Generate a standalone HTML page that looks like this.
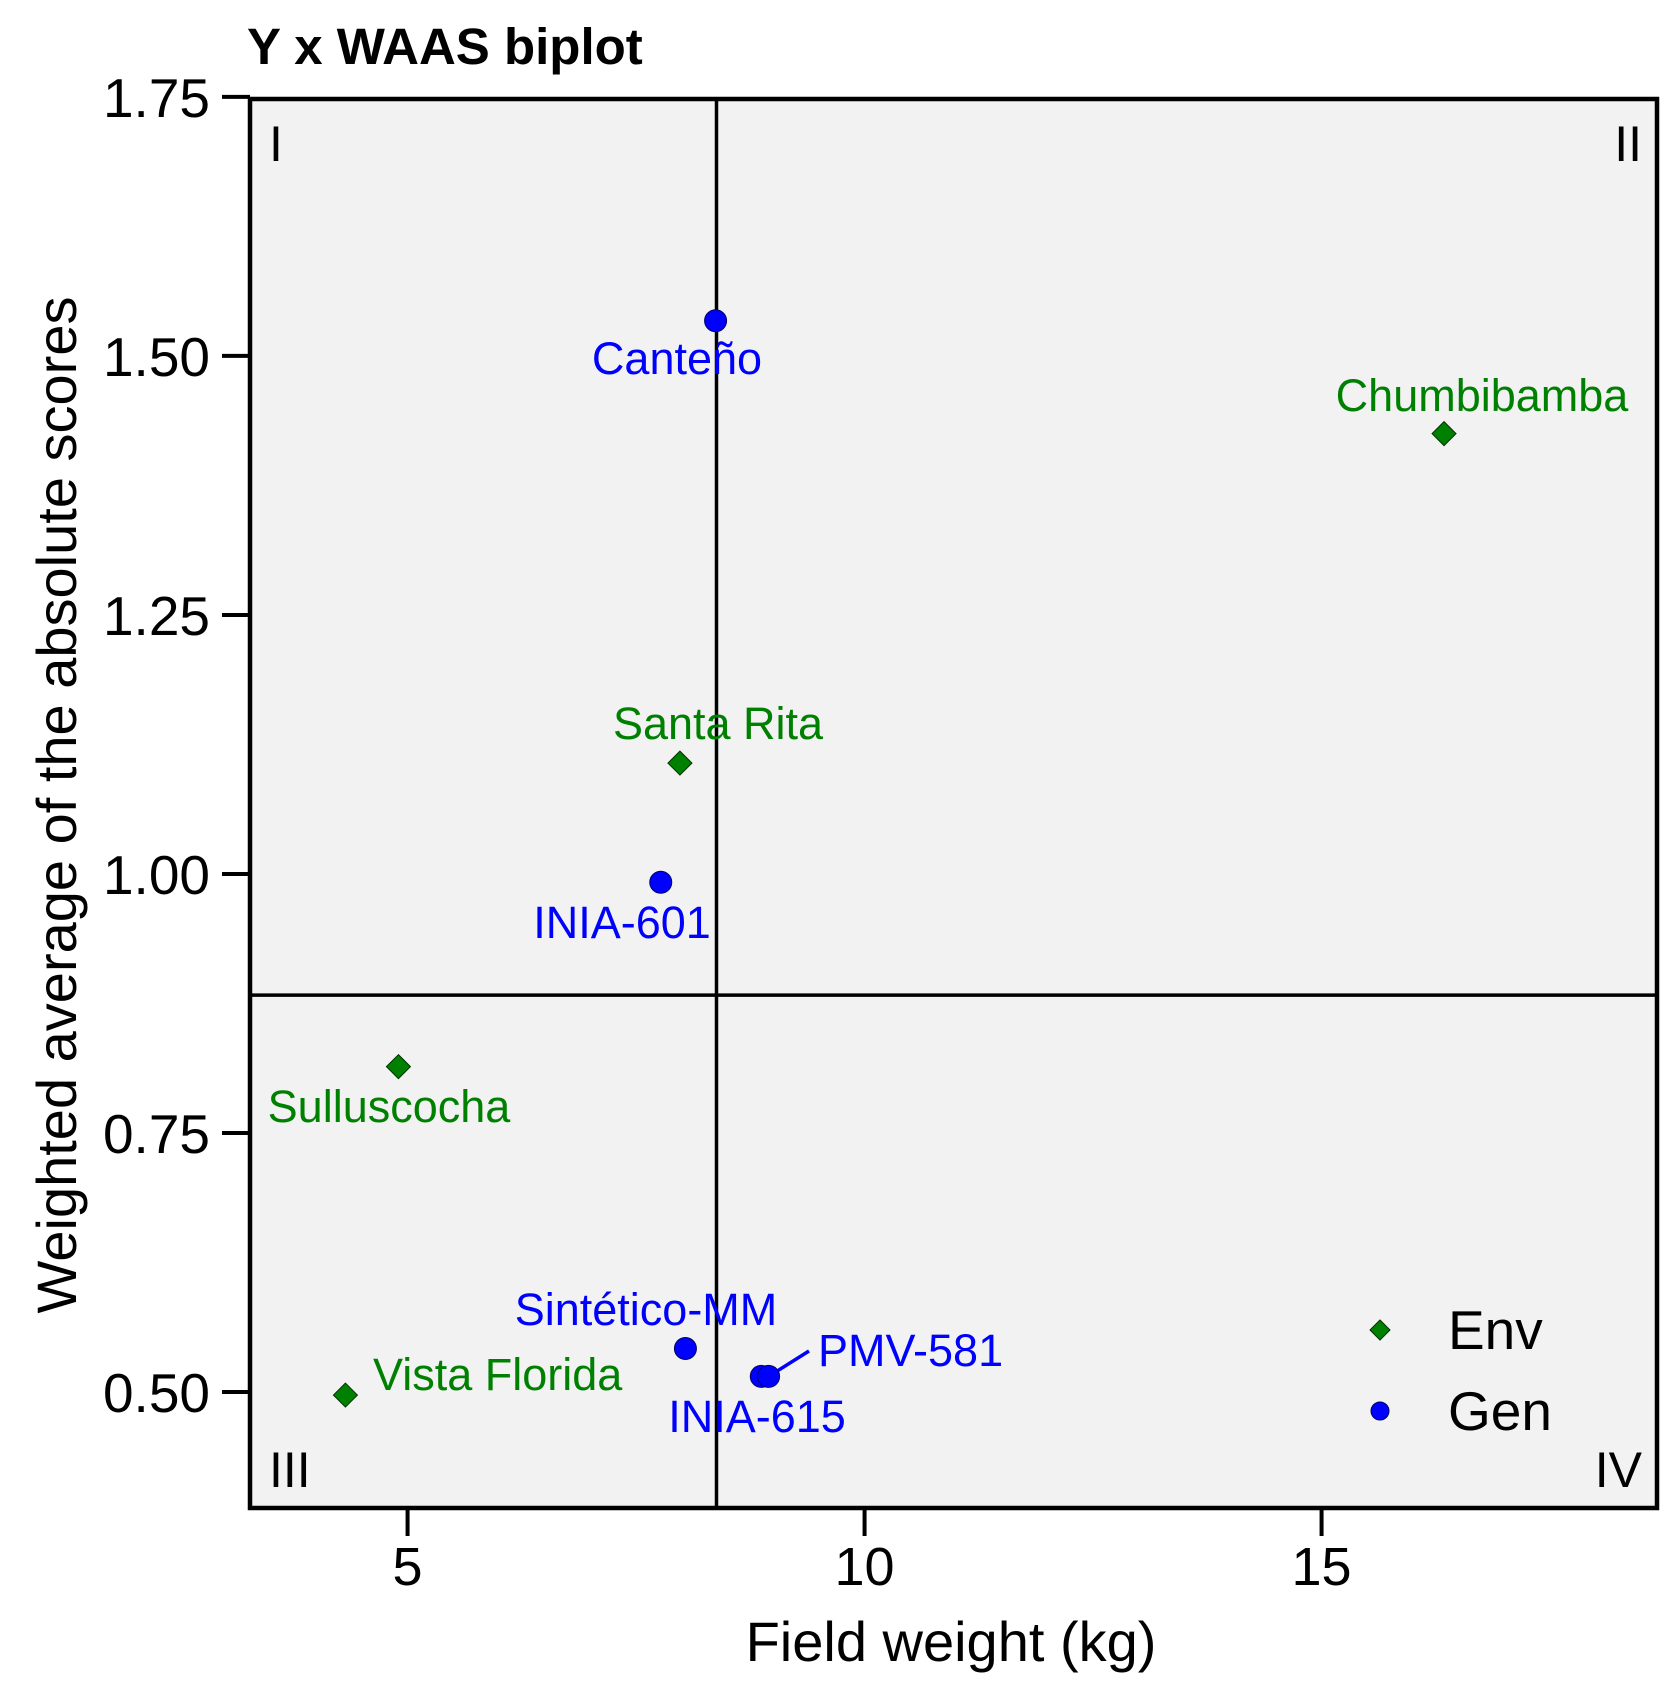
<!DOCTYPE html>
<html><head><meta charset="utf-8"><style>
html,body{margin:0;padding:0;background:#fff}
svg{display:block;font-family:"Liberation Sans",sans-serif}
</style></head><body>
<svg id="chart" width="1678" height="1695" viewBox="0 0 1678 1695"></svg>
<script>
const envNames=["Chumbibamba","Santa Rita","Sulluscocha","Vista Florida"];
const envX=[16.34,7.98,4.90,4.32];
const envY=[1.425,1.107,0.814,0.497];
const genNames=["Canteño","INIA-601","Sintético-MM","INIA-615","PMV-581"];
const genX=[8.37,7.77,8.04,8.87,8.95];
const genY=[1.534,0.992,0.542,0.515,0.515];
const xTicks=[5,10,15];
const yTicks=[0.50,0.75,1.00,1.25,1.50,1.75];
const xRef=[8.38];
const yRef=[0.883];

const L=250,R=1657,T=99,B=1508;
const xMin=3.276,xMax=18.67,yMin=0.388,yMax=1.748;
const sx=v=>L+(v-xMin)/(xMax-xMin)*(R-L);
const sy=v=>B-(v-yMin)/(yMax-yMin)*(B-T);
const svg=document.getElementById('chart');
const NS='http://www.w3.org/2000/svg';
function mk(tag,attrs,text){const e=document.createElementNS(NS,tag);for(const k in attrs)e.setAttribute(k,attrs[k]);if(text!==undefined)e.textContent=text;svg.appendChild(e);return e;}

let e=mk('rect',{x:L,y:T,width:R-L,height:B-T,fill:'#f2f2f2'});



e=mk('line',{x1:sx(xRef[0]),x2:sx(xRef[0]),y1:T,y2:B,stroke:'#000','stroke-width':3.5});


e=mk('line',{x1:L,x2:R,y1:sy(yRef[0]),y2:sy(yRef[0]),stroke:'#000','stroke-width':3.5});



e=mk('rect',{x:L,y:T,width:R-L,height:B-T,fill:'none',stroke:'#000','stroke-width':4.5});



const quad=[["I",L+19,161,'start'],["II",R-15,161,'end'],["III",L+19,1487,'start'],["IV",R-15,1487,'end']];
quad.forEach(q=>{const t=mk('text',{x:q[1],y:q[2],'font-size':50,'text-anchor':q[3],fill:'#000'},q[0]);

});

xTicks.forEach(v=>{
 let l=mk('line',{x1:sx(v),x2:sx(v),y1:B,y2:B+28,stroke:'#000','stroke-width':4});
 
 
 let t=mk('text',{x:sx(v),y:1585,'font-size':54,'text-anchor':'middle'},String(v));
 
 
});
yTicks.forEach(v=>{
 let l=mk('line',{x1:L-28,x2:L,y1:sy(v),y2:sy(v),stroke:'#000','stroke-width':4});
 
 
 let t=mk('text',{x:210,y:sy(v)+20,'font-size':55,'text-anchor':'end'},v.toFixed(2));
 
 
});

e=mk('text',{x:951,y:1661,'font-size':56,'text-anchor':'middle'},'Field weight (kg)');


e=mk('text',{x:0,y:0,'font-size':56,'text-anchor':'middle',transform:'translate(76,805) rotate(-90)'},'Weighted average of the absolute scores');


e=mk('text',{x:247,y:64,'font-size':51,'font-weight':'bold'},'Y x WAAS biplot');



e=mk('line',{x1:sx(genX[4]),y1:sy(genY[4]),x2:809,y2:1351,stroke:'#0000ff','stroke-width':3.5});



envX.forEach((v,i)=>{
 const cx=sx(v),cy=sy(envY[i]),r=12;
 let p=mk('polygon',{points:`${cx},${cy-r} ${cx+r},${cy} ${cx},${cy+r} ${cx-r},${cy}`,fill:'#008000',stroke:'#003300','stroke-width':1});
 
 
});
genX.forEach((v,i)=>{
 let c=mk('circle',{cx:sx(v),cy:sy(genY[i]),r:11,fill:'#0000ff',stroke:'#000066','stroke-width':1});
 
 
});

const envLab=[[1482,411,'middle'],[718,739,'middle'],[389,1122,'middle'],[373,1390,'start']];
envNames.forEach((n,i)=>{
 let t=mk('text',{x:envLab[i][0],y:envLab[i][1],'font-size':45,'text-anchor':envLab[i][2],fill:'#008000'},n);
 
 
});
const genLab=[[677,374,'middle'],[622,938,'middle'],[646,1325,'middle'],[757,1432,'middle'],[818,1366,'start']];
genNames.forEach((n,i)=>{
 let t=mk('text',{x:genLab[i][0],y:genLab[i][1],'font-size':45,'text-anchor':genLab[i][2],fill:'#0000ff'},n);
 
 
});

e=mk('polygon',{points:'1380,1320 1390,1330 1380,1340 1370,1330',fill:'#008000',stroke:'#003300','stroke-width':1});


e=mk('text',{x:1448,y:1349,'font-size':55},'Env');


e=mk('circle',{cx:1380,cy:1411,r:9,fill:'#0000ff',stroke:'#000066','stroke-width':1});


e=mk('text',{x:1448,y:1430,'font-size':55},'Gen');


</script>
</body></html>
